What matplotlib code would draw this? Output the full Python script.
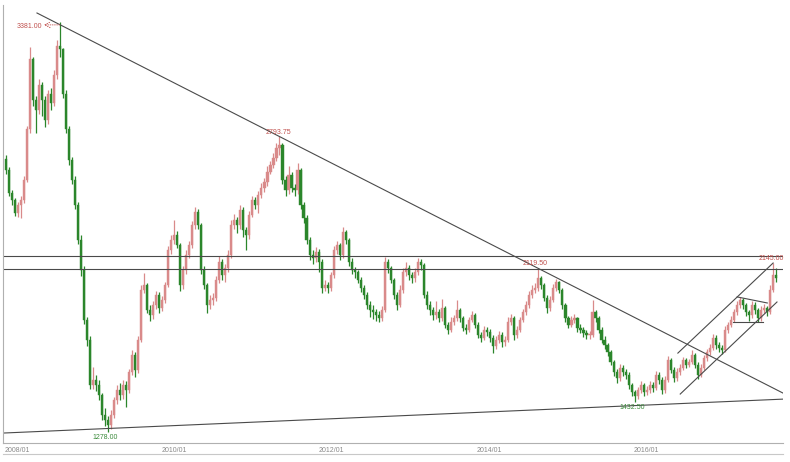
import numpy as np
import matplotlib
matplotlib.use("Agg")
import matplotlib.pyplot as plt
from matplotlib.lines import Line2D

# biweekly bars
start = np.datetime64('2008-01-04')
first_open = 2680

closes = [
    2620, 2504, 2470, 2400, 2440, 2470, 2570, 2830, 3190, 2980,
    2930, 3060, 2980, 2880, 3010, 2966, 3110, 3260, 3240, 3010,
    2830, 2675, 2570, 2440, 2263, 2109, 1853, 1750, 1520, 1545,
    1520, 1468, 1365, 1340, 1314, 1365, 1442, 1493, 1468, 1520,
    1493, 1586, 1673, 1596, 1750, 2006, 2032, 1904, 1878, 1930,
    1981, 1914, 1955, 2032, 2211, 2263, 2288, 2237, 2032, 2109,
    2186, 2237, 2340, 2407, 2340, 2109, 2032, 1930, 1955, 1965,
    2058, 2150, 2083, 2119, 2186, 2340, 2365, 2340, 2417, 2314,
    2288, 2391, 2468, 2442, 2494, 2530, 2560, 2612, 2648, 2684,
    2735, 2750, 2571, 2519, 2596, 2530, 2519, 2622, 2442, 2376,
    2263, 2186, 2170, 2201, 2150, 2017, 2032, 2017, 2083, 2211,
    2237, 2186, 2304, 2263, 2150, 2109, 2099, 2058, 2017, 1981,
    1930, 1904, 1893, 1878, 1863, 1904, 2150, 2119, 2058, 1981,
    1930, 2006, 2099, 2119, 2083, 2068, 2099, 2150, 2135, 1981,
    1930, 1904, 1878, 1893, 1863, 1914, 1827, 1801, 1842, 1863,
    1904, 1863, 1812, 1801, 1853, 1878, 1827, 1776, 1760, 1801,
    1791, 1760, 1719, 1750, 1776, 1740, 1750, 1842, 1863, 1776,
    1801, 1853, 1893, 1930, 1981, 2006, 2017, 2068, 2032, 1965,
    1914, 1955, 2017, 2047, 2006, 1930, 1863, 1827, 1853, 1863,
    1812, 1801, 1786, 1776, 1776, 1893, 1863, 1801, 1750, 1724,
    1688, 1637, 1586, 1555, 1606, 1586, 1570, 1519, 1483, 1463,
    1493, 1519, 1483, 1493, 1519, 1504, 1570, 1545, 1493, 1545,
    1647, 1596, 1555, 1586, 1606, 1647, 1622, 1637, 1673, 1622,
    1570, 1606, 1657, 1688, 1709, 1760, 1724, 1709, 1699, 1801,
    1827, 1853, 1893, 1930, 1955, 1930, 1893, 1878, 1930, 1904,
    1863, 1904, 1914, 1893, 2006, 2083, 2070]

highs = [
    2700, 2635, 2520, 2480, 2460, 2490, 2590, 2850, 3252, 3200,
    3000, 3090, 3075, 3000, 3030, 3040, 3135, 3290, 3381, 3250,
    3030, 2850, 2690, 2590, 2460, 2290, 2130, 1870, 1770, 1611,
    1570, 1545, 1480, 1400, 1360, 1390, 1460, 1520, 1530, 1545,
    1540, 1600, 1700, 1690, 1770, 2030, 2094, 2045, 1930, 1950,
    2000, 1995, 1975, 2050, 2230, 2290, 2365, 2310, 2250, 2130,
    2210, 2260, 2360, 2432, 2420, 2350, 2130, 2045, 1980, 1990,
    2080, 2180, 2165, 2140, 2210, 2365, 2395, 2380, 2440, 2430,
    2330, 2410, 2490, 2485, 2515, 2555, 2580, 2640, 2670, 2710,
    2760, 2793.75, 2760, 2590, 2640, 2610, 2550, 2660, 2630, 2460,
    2390, 2280, 2210, 2225, 2215, 2165, 2060, 2050, 2100, 2230,
    2260, 2250, 2329, 2315, 2275, 2170, 2125, 2110, 2075, 2030,
    1995, 1950, 1930, 1910, 1900, 1925, 2176, 2165, 2130, 2070,
    1995, 2030, 2120, 2150, 2135, 2100, 2120, 2170, 2165, 2145,
    2000, 1950, 1920, 1950, 1910, 1960, 1925, 1845, 1870, 1880,
    1955, 1915, 1875, 1830, 1870, 1900, 1890, 1840, 1790, 1820,
    1815, 1805, 1775, 1770, 1795, 1790, 1770, 1868, 1885, 1875,
    1820, 1870, 1910, 1950, 2000, 2030, 2040, 2119.5, 2080, 2045,
    1980, 1975, 2035, 2065, 2055, 2015, 1940, 1875, 1875, 1885,
    1870, 1830, 1815, 1800, 1795, 1955, 1905, 1875, 1815, 1770,
    1735, 1700, 1650, 1600, 1625, 1620, 1600, 1585, 1530, 1495,
    1510, 1540, 1530, 1515, 1540, 1535, 1590, 1585, 1560, 1565,
    1670, 1660, 1610, 1605, 1625, 1665, 1660, 1655, 1700, 1685,
    1635, 1625, 1675, 1705, 1730, 1780, 1775, 1740, 1725, 1820,
    1845, 1875, 1910, 1950, 1971, 1965, 1940, 1905, 1950, 1945,
    1915, 1925, 1935, 1925, 2030, 2145, 2120]

lows = [
    2600, 2490, 2440, 2385, 2380, 2376, 2455, 2560, 2810, 2950,
    2812, 2910, 2900, 2842, 2860, 2930, 2950, 3090, 3200, 2990,
    2810, 2650, 2550, 2420, 2240, 2080, 1830, 1720, 1500, 1500,
    1490, 1440, 1340, 1310, 1278, 1295, 1350, 1420, 1440, 1450,
    1406, 1480, 1570, 1560, 1580, 1740, 1990, 1890, 1850, 1860,
    1910, 1890, 1900, 1940, 2020, 2190, 2240, 2220, 2000, 2010,
    2090, 2170, 2220, 2320, 2320, 2090, 2010, 1888, 1910, 1930,
    1950, 2040, 2060, 2050, 2100, 2170, 2320, 2300, 2320, 2280,
    2211, 2270, 2380, 2420, 2400, 2480, 2510, 2540, 2600, 2630,
    2670, 2700, 2550, 2490, 2500, 2510, 2490, 2500, 2420, 2350,
    2240, 2160, 2140, 2150, 2100, 1990, 2000, 1990, 2000, 2070,
    2190, 2160, 2170, 2240, 2130, 2090, 2070, 2040, 1995, 1960,
    1910, 1870, 1860, 1850, 1845, 1850, 1895, 2095, 2040, 1960,
    1905, 1920, 1990, 2080, 2060, 2040, 2050, 2085, 2110, 1965,
    1910, 1880, 1855, 1860, 1840, 1850, 1810, 1780, 1790, 1825,
    1850, 1845, 1795, 1780, 1790, 1840, 1810, 1760, 1740, 1750,
    1770, 1740, 1683, 1705, 1735, 1715, 1720, 1740, 1825, 1750,
    1760, 1790, 1840, 1880, 1915, 1965, 1990, 2000, 2010, 1950,
    1890, 1900, 1945, 2000, 1990, 1910, 1845, 1810, 1815, 1835,
    1790, 1785, 1765, 1755, 1755, 1765, 1845, 1785, 1735, 1705,
    1670, 1620, 1565, 1530, 1540, 1565, 1550, 1500, 1465, 1432.5,
    1450, 1480, 1465, 1470, 1480, 1485, 1495, 1525, 1475, 1480,
    1535, 1580, 1535, 1540, 1570, 1595, 1605, 1610, 1625, 1605,
    1550, 1560, 1595, 1645, 1675, 1700, 1705, 1690, 1680, 1690,
    1785, 1815, 1840, 1880, 1915, 1910, 1875, 1850, 1865, 1885,
    1842, 1850, 1890, 1875, 1885, 1995, 2050]

# marked prices
peak_labels = [(18, 3381.00), (91, 2793.75), (177, 2119.50), (255, 2145.00)]
low_labels = [(34, 1278.00), (209, 1432.50)]

# hand-drawn lines: (start date, start price, end date, end price)
drawn_lines = [
    ('2008-05-29', 3427, '2017-11-28', 1478),
    ('2007-12-23', 1273, '2017-11-28', 1447),
    ('2007-12-23', 2183, '2017-11-28', 2183),
    ('2007-12-23', 2112, '2017-11-28', 2112),
    ('2016-07-27', 1683, '2017-10-13', 2145),
    ('2016-08-07', 1473, '2017-10-31', 1945),
    ('2017-04-29', 1971, '2017-09-16', 1940),
    ('2017-04-10', 1842, '2017-08-28', 1842),
]

tick_dates = ['2008-01-01', '2010-01-01', '2012-01-01', '2014-01-01', '2016-01-01']
tick_labels = ['2008/01', '2010/01', '2012/01', '2014/01', '2016/01']

up_color = '#d98a8a'
down_color = '#2b862b'
red_text = '#c0504d'
green_text = '#3a8a3a'

def main():
    n = len(closes)
    dates = start + np.arange(n) * np.timedelta64(14, 'D')
    opens = [first_open] + closes[:-1]
    o = np.array(opens, dtype=float)
    c = np.array(closes, dtype=float)
    up = c >= o

    fig = plt.figure(figsize=(7.9, 4.62), dpi=100)
    ax = fig.add_axes([3 / 790, 19 / 462, 780 / 790, 438 / 462])

    colors = np.where(up, up_color, down_color)
    ax.vlines(dates, lows, highs, colors=colors, linewidth=0.9)
    body_lo = np.minimum(o, c)
    body_h = np.maximum(np.abs(c - o), 4)
    ax.bar(dates, body_h, bottom=body_lo, width=np.timedelta64(10, 'D'),
           color=colors, edgecolor=colors, linewidth=0.3)

    for d0, p0, d1, p1 in drawn_lines:
        ax.plot([np.datetime64(d0), np.datetime64(d1)], [p0, p1],
                color='#4a4a4a', linewidth=0.8)

    for i, p in peak_labels:
        if i == 18:
            ax.annotate('%.2f' % p, xy=(dates[i], p), xytext=(-13, -3),
                        textcoords='offset points', ha='right', va='center',
                        fontsize=5, color=red_text, family='Liberation Sans')
            ax.annotate('', xy=(dates[i] - np.timedelta64(75, 'D'), p - 15),
                        xytext=(dates[i], p - 15),
                        arrowprops=dict(arrowstyle='->', color=red_text,
                                        linestyle=':', lw=0.6,
                                        shrinkA=0, shrinkB=0))
        else:
            dx = -2 if i == 177 else -1
            ax.annotate('%.2f' % p, xy=(dates[i], p), xytext=(dx, 0.5),
                        textcoords='offset points', ha='center', va='bottom',
                        fontsize=5, color=red_text, family='Liberation Sans')
    for i, p in low_labels:
        ax.annotate('%.2f' % p, xy=(dates[i], p), xytext=(-2, -1.5),
                    textcoords='offset points', ha='center', va='top',
                    fontsize=5, color=green_text, family='Liberation Sans')

    ax.set_xlim(np.datetime64('2007-12-23'), np.datetime64('2017-11-28'))
    ax.set_ylim(1222, 3468)
    ax.set_yticks([])
    ax.set_xticks([np.datetime64(d) for d in tick_dates])
    ax.set_xticklabels(tick_labels, fontsize=5, color='#8a8a8a',
                       family='Liberation Sans', ha='left')
    ax.tick_params(axis='x', length=0, pad=3)
    for side in ['top', 'right']:
        ax.spines[side].set_visible(False)
    ax.spines['left'].set_color('#b0b0b0')
    ax.spines['bottom'].set_color('#b0b0b0')
    ax.spines['left'].set_linewidth(0.8)
    ax.spines['bottom'].set_linewidth(0.8)

    fig.add_artist(Line2D([3 / 790, 783 / 790], [1 - 454 / 462, 1 - 454 / 462],
                          color='#c8c8c8', linewidth=0.8))

    fig.savefig('out.png', dpi=100)

if __name__ == "__main__":
    main()
